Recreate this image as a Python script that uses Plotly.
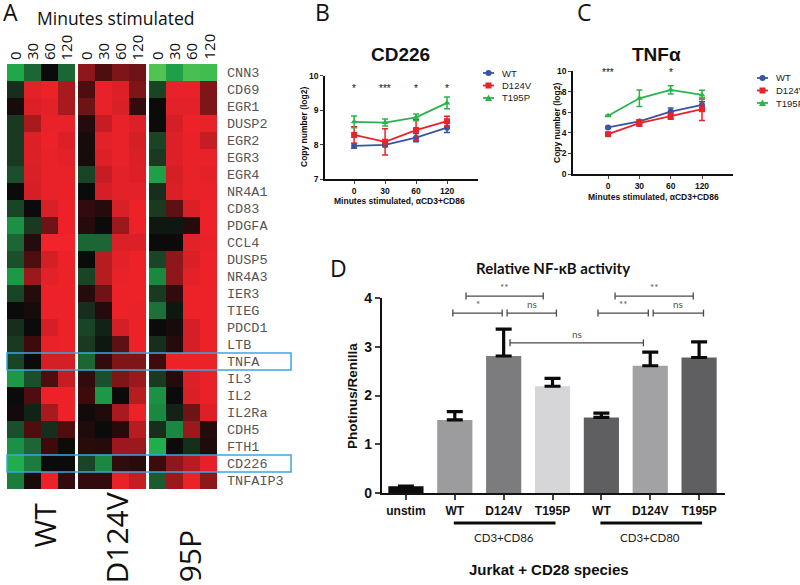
import plotly.graph_objects as go

W, H = 800, 585

# ---------------- data ----------------
genes = ["CNN3", "CD69", "EGR1", "DUSP2", "EGR2", "EGR3", "EGR4", "NR4A1", "CD83",
         "PDGFA", "CCL4", "DUSP5", "NR4A3", "IER3", "TIEG", "PDCD1", "LTB", "TNFA",
         "IL3", "IL2", "IL2Ra", "CDH5", "FTH1", "CD226", "TNFAIP3"]
minutes = ["0", "30", "60", "120"]
strains = ["WT", "D124V", "T195P"]
boxed_genes = ["TNFA", "CD226"]

# relative expression (green = down, red = up), columns 0/30/60/120 min
heat_wt = [
    [-0.75, -0.4, 0.0, -0.4], [-0.15, 0.85, 0.95, 0.55], [0.05, 0.8, 0.85, 0.55],
    [-0.2, 0.55, 0.9, 0.9], [-0.2, 0.8, 0.95, 0.8], [-0.2, 0.8, 0.9, 0.85],
    [-0.3, 0.75, 0.9, 0.9], [0.0, 0.7, 0.9, 0.9], [-0.25, 0.0, 0.75, 0.95],
    [-0.6, -0.2, 0.35, 0.95], [-0.4, 0.1, 1.0, 1.0], [-0.3, 0.25, 0.7, 0.95],
    [-0.65, 0.5, 0.85, 0.95], [-0.25, 0.1, 0.95, 0.95], [0.0, 0.05, 0.95, 0.95],
    [-0.15, 0.0, 0.7, 0.95], [-0.2, 0.2, 0.9, 0.95], [-0.25, 0.0, 0.7, 0.7],
    [-0.65, -0.3, 0.25, 0.65], [0.0, 0.25, 0.95, 0.95], [0.03, -0.1, 0.55, 0.95],
    [-0.3, 0.25, -0.15, 0.25], [-0.6, -0.4, 0.2, 0.02], [-0.8, -0.5, 0.0, 0.0],
    [-0.5, 0.05, 0.95, 0.15]]
heat_d124v = [
    [0.45, 0.25, 0.4, 0.35], [0.25, 0.9, 0.8, 0.4], [0.35, 0.9, 0.75, 0.15],
    [0.1, 0.65, 0.9, 0.8], [0.05, 0.85, 0.9, 0.7], [0.05, 0.8, 0.9, 0.75],
    [-0.25, 0.65, 0.85, 0.8], [0.0, 0.7, 0.85, 0.85], [0.15, 0.1, 0.75, 0.95],
    [0.1, 0.0, 0.5, 0.95], [-0.4, -0.4, 0.8, 0.8], [0.0, 0.6, 0.85, 0.95],
    [-0.25, 0.6, 0.9, 0.95], [0.1, 0.35, 0.95, 0.95], [-0.15, 0.1, 0.95, 0.9],
    [-0.25, -0.1, 0.7, 0.95], [-0.2, -0.05, 0.3, 0.95], [-0.4, 0.15, 0.4, 0.4],
    [0.15, -0.3, 0.4, 0.5], [0.2, -0.65, 0.0, 0.6], [0.03, 0.08, 0.55, 0.95],
    [0.08, 0.0, 0.1, 0.6], [0.12, 0.1, 0.5, 0.5], [-0.25, -0.55, 0.15, 0.12],
    [0.15, 0.15, 0.9, 0.65]]
heat_t195p = [
    [-0.95, -0.7, -0.92, -0.9], [-0.25, 0.9, 0.9, 0.4], [0.0, 0.85, 0.85, 0.4],
    [0.0, 0.7, 0.95, 0.9], [-0.25, 0.8, 0.9, 0.65], [-0.2, 0.8, 0.9, 0.9],
    [-0.7, 0.7, 0.9, 0.85], [-0.15, 0.75, 0.9, 0.9], [-0.2, 0.3, 0.75, 0.95],
    [-0.05, -0.05, 0.1, 0.95], [0.0, 0.0, 0.85, 0.9], [-0.25, 0.45, 0.75, 0.95],
    [-0.55, 0.45, 0.85, 0.95], [-0.2, 0.15, 0.95, 0.95], [-0.45, -0.05, 0.95, 0.95],
    [0.0, 0.05, 0.7, 0.95], [-0.15, 0.1, 0.7, 0.95], [0.2, 0.95, 0.95, 0.95],
    [-0.2, 0.1, 0.8, 0.9], [-0.6, 0.0, 0.75, 0.9], [-0.55, -0.1, 0.35, 0.8],
    [-0.15, -0.55, 0.5, 0.1], [-0.8, 0.0, -0.15, 0.08], [0.2, 0.45, 0.6, 0.85],
    [-0.35, 0.5, 0.95, 0.45]]

# panel B: CD226 copy number (log2)
cd226_wt = [7.96, 7.99, 8.20, 8.49]
cd226_wt_err = [0.07, 0.05, 0.12, 0.14]
cd226_d124v = [8.28, 8.08, 8.42, 8.68]
cd226_d124v_err = [0.24, 0.38, 0.30, 0.14]
cd226_t195p = [8.66, 8.64, 8.79, 9.21]
cd226_t195p_err = [0.17, 0.10, 0.10, 0.17]
cd226_stars = ["*", "***", "*", "*"]

# panel C: TNFa copy number (log2)
tnf_wt = [4.52, 5.10, 6.06, 6.71]
tnf_wt_err = [0.10, 0.15, 0.35, 0.30]
tnf_d124v = [3.87, 4.94, 5.61, 6.29]
tnf_d124v_err = [0.12, 0.30, 0.30, 1.10]
tnf_t195p = [5.65, 7.35, 8.16, 7.68]
tnf_t195p_err = [0.05, 0.80, 0.40, 0.45]
tnf_stars = ["***", "", "*", ""]

# panel D: relative NF-kB activity
nfkb_labels = ["unstim", "WT", "D124V", "T195P", "WT", "D124V", "T195P"]
nfkb_values = [0.14, 1.50, 2.81, 2.19, 1.55, 2.61, 2.78]
nfkb_err = [0.0, 0.17, 0.55, 0.16, 0.09, 0.28, 0.32]
nfkb_colors = ["#0c0c0c", "#9c9c9e", "#7c7c7e", "#d6d6d8", "#5f5f61", "#a2a2a4", "#5f5f61"]
group_names = ["CD3+CD86", "CD3+CD80"]
group_first = [1, 4]
group_last = [3, 6]
sig_x0 = [1.23, 0.96, 2.07, 4.28, 3.93, 5.06, 2.13]
sig_x1 = [2.81, 1.97, 3.08, 5.88, 4.96, 6.09, 4.86]
sig_y = [4.04, 3.69, 3.69, 4.04, 3.69, 3.69, 3.08]
sig_text = ["**", "*", "ns", "**", "**", "ns", "ns"]

series_colors = ["#3a53a4", "#e8232a", "#2bb34b"]
series_symbols = ["circle", "square", "triangle-up"]


def X(p):
    return p / W


def Y(p):
    return 1 - p / H


fig = go.Figure()


def note(x, y, text, font, **kw):
    # text placed by canvas pixel position
    opts = dict(xref="paper", yref="paper", showarrow=False, xanchor="center", yanchor="middle")
    opts.update(kw)
    fig.add_annotation(x=X(x), y=Y(y), text=text, font=font, **opts)


# ---------------- panel A: heatmap ----------------
GAP = 0.18
HM_LEFT, HM_RIGHT, HM_TOP, HM_BOT = 7, 217, 64, 489
colorscale = [[0.0, "#62ca52"], [0.1, "#20ae4c"], [0.22, "#1b8a42"], [0.32, "#1c5c31"],
              [0.42, "#18301d"], [0.5, "#0b0b0b"], [0.6, "#3e0b0d"], [0.72, "#8a171b"],
              [0.85, "#d31f25"], [1.0, "#f2232a"]]
rows = list(range(len(genes)))
for b, z in enumerate([heat_wt, heat_d124v, heat_t195p]):
    xs = [b * (4 + GAP) + c for c in range(4)]
    fig.add_trace(go.Heatmap(z=z, x=xs, y=rows, colorscale=colorscale, zmin=-1, zmax=1,
                             showscale=False, hoverinfo="skip", xaxis="x", yaxis="y"))
    for c, m in enumerate(minutes):
        fig.add_annotation(x=xs[c], xref="x", y=Y(HM_TOP - 2), yref="paper", text=m,
                           textangle=-90, showarrow=False, xanchor="center", yanchor="bottom",
                           font=dict(family="Open Sans", size=15, color="#111"))

HM_XR = [-0.5, 2 * (4 + GAP) + 3.5]
row_h = (HM_BOT - HM_TOP) / len(genes)
for g in boxed_genes:
    i = genes.index(g)
    fig.add_shape(type="rect", xref="paper", yref="paper", x0=X(HM_LEFT), x1=X(291),
                  y0=Y(HM_TOP + i * row_h), y1=Y(HM_TOP + (i + 1) * row_h),
                  line=dict(color="#3aa6e2", width=1.5))

note(116, 18, "Minutes stimulated", dict(family="Open Sans", size=17.5, color="#111"))
strain_x = [44, 116, 189]
strain_top = [501, 490, 528]
for s, sx, st in zip(strains, strain_x, strain_top):
    note(sx, st, s, dict(family="Open Sans", size=30, color="#111"), textangle=-90, yanchor="top")

# ---------------- panels B and C: line plots ----------------
def add_lines(ax, means, errs, names):
    for k in range(3):
        fig.add_trace(go.Scatter(
            x=list(range(len(minutes))), y=means[k], mode="lines+markers", name=names[k],
            xaxis="x" + ax, yaxis="y" + ax, showlegend=False, hoverinfo="skip",
            line=dict(color=series_colors[k], width=1.8),
            marker=dict(symbol=series_symbols[k], size=6, color=series_colors[k]),
            error_y=dict(type="data", array=errs[k], color=series_colors[k],
                         thickness=1.5, width=3)))


add_lines("2", [cd226_wt, cd226_d124v, cd226_t195p],
          [cd226_wt_err, cd226_d124v_err, cd226_t195p_err], strains)
add_lines("3", [tnf_wt, tnf_d124v, tnf_t195p],
          [tnf_wt_err, tnf_d124v_err, tnf_t195p_err], strains)

star_font = dict(family="Liberation Sans", size=10, color="#111")
for i, s in enumerate(cd226_stars):
    fig.add_annotation(x=i, y=9.62, xref="x2", yref="y2", text=s, showarrow=False,
                       xanchor="center", yanchor="middle", font=star_font)
for i, s in enumerate(tnf_stars):
    if s:
        fig.add_annotation(x=i, y=9.85, xref="x3", yref="y3", text=s, showarrow=False,
                           xanchor="center", yanchor="middle", font=star_font)

small_bold = dict(family="Liberation Sans", size=8.5, color="#111", weight="bold")
for title, cx, ty, yx, yy in [("CD226", 400, 54, 304, 127), ("TNFα", 656, 54, 557, 123)]:
    note(cx, ty, title, dict(family="Liberation Sans", size=19, color="#111", weight="bold"))
    note(yx, yy, "Copy number (log2)", small_bold, textangle=-90)
note(399, 201, "Minutes stimulated, αCD3+CD86", small_bold)
note(653, 197, "Minutes stimulated, αCD3+CD86", small_bold)

# hand-drawn legends for B and C
for lx, ly0 in [(483, 73), (757, 78)]:
    for k, s in enumerate(strains):
        yy = ly0 + k * 12.5
        fig.add_shape(type="line", xref="paper", yref="paper", x0=X(lx), x1=X(lx + 11),
                      y0=Y(yy), y1=Y(yy), line=dict(color=series_colors[k], width=1.8))
        mx = lx + 5.5
        if k == 0:
            fig.add_shape(type="circle", xref="paper", yref="paper", x0=X(mx - 3), x1=X(mx + 3),
                          y0=Y(yy - 3), y1=Y(yy + 3), fillcolor=series_colors[k], line_width=0)
        elif k == 1:
            fig.add_shape(type="rect", xref="paper", yref="paper", x0=X(mx - 3), x1=X(mx + 3),
                          y0=Y(yy - 3), y1=Y(yy + 3), fillcolor=series_colors[k], line_width=0)
        else:
            fig.add_shape(type="path", xref="paper", yref="paper",
                          path=f"M {X(mx - 3.5)} {Y(yy + 3)} L {X(mx + 3.5)} {Y(yy + 3)} L {X(mx)} {Y(yy - 3.5)} Z",
                          fillcolor=series_colors[k], line_width=0)
        note(lx + 17, yy, s, dict(family="Liberation Sans", size=9.5, color="#222"), xanchor="left")

# ---------------- panel D: bar chart ----------------
D_L, D_R, D_T, D_B = 382, 725, 298, 493
D_XR = [-0.49, 6.53]
D_YR = [0, 4]


def dx(v):
    return D_L + (v - D_XR[0]) / (D_XR[1] - D_XR[0]) * (D_R - D_L)


def dy(v):
    return D_B - (v - D_YR[0]) / (D_YR[1] - D_YR[0]) * (D_B - D_T)


fig.add_trace(go.Bar(
    x=list(range(len(nfkb_values))), y=nfkb_values, width=0.72, xaxis="x4", yaxis="y4",
    marker=dict(color=nfkb_colors, line_width=0), showlegend=False, hoverinfo="skip",
    error_y=dict(type="data", array=nfkb_err, arrayminus=[0] * len(nfkb_err), symmetric=False,
                 color="#0a0a0a", thickness=3.2, width=8)))

for x0, x1, yv, t in zip(sig_x0, sig_x1, sig_y, sig_text):
    px0, px1, pyy = dx(x0), dx(x1), dy(yv)
    fig.add_shape(type="line", xref="paper", yref="paper", x0=X(px0), x1=X(px1), y0=Y(pyy), y1=Y(pyy),
                  line=dict(color="#4a4a4a", width=1.3))
    for e in (px0, px1):
        fig.add_shape(type="line", xref="paper", yref="paper", x0=X(e), x1=X(e),
                      y0=Y(pyy - 3.5), y1=Y(pyy + 3.5), line=dict(color="#4a4a4a", width=1.3))
    note((px0 + px1) / 2, pyy - 1, t, dict(family="Lato", size=10, color="#555"), yanchor="bottom")

for name, g0, g1 in zip(group_names, group_first, group_last):
    fig.add_shape(type="line", xref="paper", yref="paper", x0=X(dx(g0) - 1), x1=X(dx(g1) + 3),
                  y0=Y(523), y1=Y(523), line=dict(color="#0a0a0a", width=3))
    note((dx(g0) + dx(g1)) / 2, 537, name, dict(family="Lato", size=11.5, color="#222"))

note(553, 268, "Relative NF-κB activity", dict(family="Lato", size=15, color="#111", weight="bold"))
note(352, 396, "Photinus/Renilla", dict(family="Liberation Sans", size=13.5, color="#111", weight="bold"),
     textangle=-90)
note(549, 569, "Jurkat + CD28 species", dict(family="Liberation Sans", size=15, color="#111", weight="bold"))

# panel letters
for letter, lx, ly in [("A", 10, 12), ("B", 322, 12), ("C", 584, 12), ("D", 338, 268)]:
    note(lx, ly, letter, dict(family="Open Sans", size=23, color="#111"))

# ---------------- axes ----------------
line_ax = dict(showline=True, linecolor="#111", showgrid=False, zeroline=False, ticks="outside",
               automargin=False)
bc_font = dict(family="Liberation Sans", size=8.5, color="#111", weight="bold")
fig.update_layout(
    width=W, height=H, margin=dict(l=0, r=0, t=0, b=0, autoexpand=False),
    paper_bgcolor="white", plot_bgcolor="rgba(0,0,0,0)", showlegend=False,
    xaxis=dict(domain=[X(HM_LEFT), X(HM_RIGHT)], range=HM_XR, visible=False, automargin=False),
    yaxis=dict(domain=[Y(HM_BOT), Y(HM_TOP)], range=[len(genes) - 0.5, -0.5], side="right",
               tickvals=rows, ticktext=genes, ticks="", showgrid=False, zeroline=False,
               ticklabelstandoff=9, anchor="x", automargin=False,
               tickfont=dict(family="Liberation Mono", size=13.5, color="#555")),
    xaxis2=dict(domain=[X(325), X(478)], range=[-0.94, 4.0], anchor="y2",
                tickvals=list(range(4)), ticktext=minutes, ticklen=3, tickwidth=1.3,
                linewidth=1.5, tickfont=bc_font, **line_ax),
    yaxis2=dict(domain=[Y(179), Y(75.7)], range=[7, 10], dtick=1, anchor="x2", ticklen=3,
                tickwidth=1.3, linewidth=1.5, tickfont=bc_font, **line_ax),
    xaxis3=dict(domain=[X(573), X(733)], range=[-1.12, 3.99], anchor="y3",
                tickvals=list(range(4)), ticktext=minutes, ticklen=3, tickwidth=1.3,
                linewidth=1.5, tickfont=bc_font, **line_ax),
    yaxis3=dict(domain=[Y(174), Y(71)], range=[0, 10], dtick=2, anchor="x3", ticklen=3,
                tickwidth=1.3, linewidth=1.5, tickfont=bc_font, **line_ax),
    xaxis4=dict(domain=[X(D_L), X(D_R)], range=D_XR, anchor="y4",
                tickvals=list(range(len(nfkb_labels))), ticktext=nfkb_labels, ticklen=5,
                tickwidth=2, linewidth=2.2,
                tickfont=dict(family="Liberation Sans", size=12, color="#111", weight="bold"),
                **line_ax),
    yaxis4=dict(domain=[Y(D_B), Y(D_T)], range=D_YR, dtick=1, anchor="x4", ticklen=5,
                tickwidth=2, linewidth=2.2,
                tickfont=dict(family="Liberation Sans", size=14, color="#111", weight="bold"),
                **line_ax),
)

# the page body has an 8px default margin; drop it so the figure fills the window
fig.write_html("out.html", config={"displayModeBar": False},
               post_script="document.body.style.margin = '0';")
